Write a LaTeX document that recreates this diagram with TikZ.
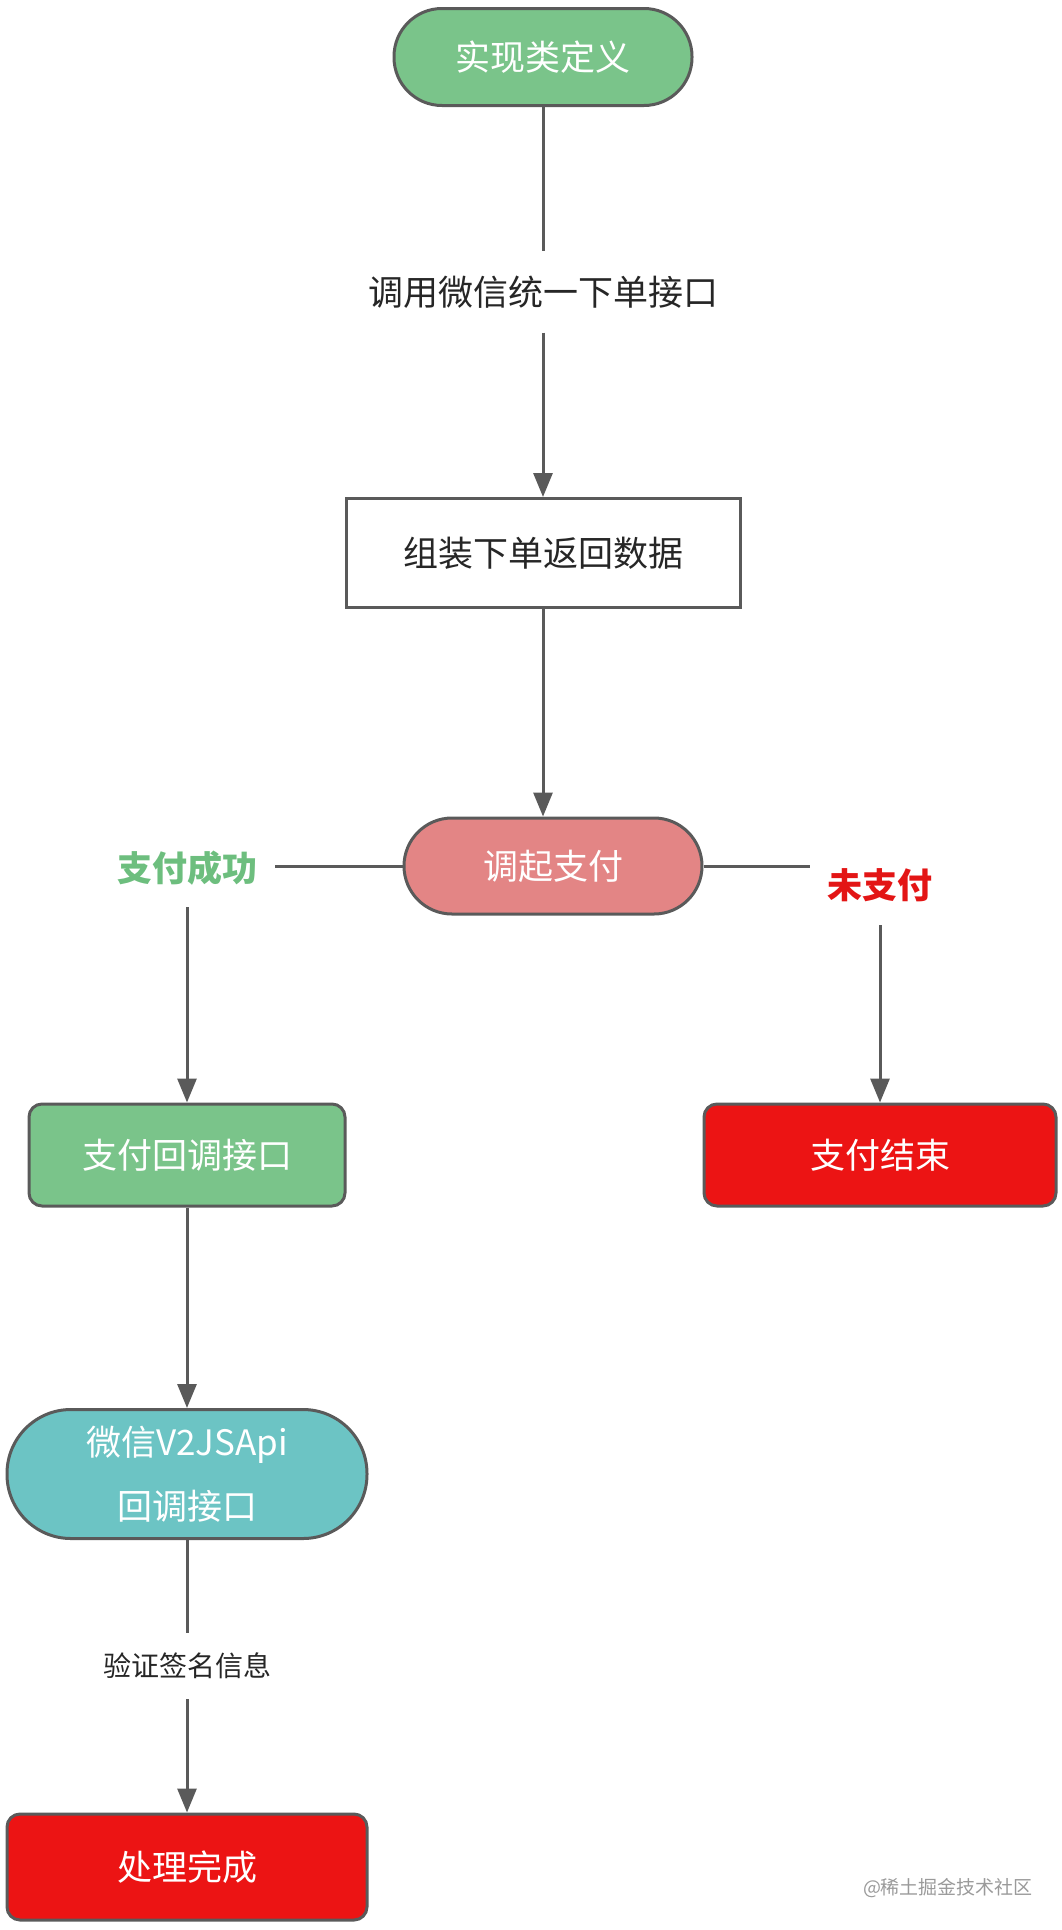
\documentclass[tikz,border=0pt]{standalone}
\usepackage{fontspec}
\setmainfont{Noto Sans CJK SC}
\usetikzlibrary{arrows.meta}
\definecolor{edgegray}{HTML}{5A5A5A}
\definecolor{startgreen}{HTML}{7AC48A}
\definecolor{invokepink}{HTML}{E38585}
\definecolor{apiteal}{HTML}{6CC4C4}
\definecolor{endred}{HTML}{EC1414}
\definecolor{okgreen}{HTML}{6DBE7E}
\definecolor{failred}{HTML}{E31515}
\definecolor{textdark}{HTML}{262626}
\definecolor{markgray}{HTML}{9A9A9A}
\begin{document}
\begin{tikzpicture}[x=1pt,y=-1pt,
        box/.style={draw=edgegray,line width=3pt,inner sep=0pt,text=white,
            font=\fontsize{35pt}{64pt}\selectfont},
        pill/.style={box,rounded corners=#1},
        tag/.style={inner sep=0pt,text=textdark,font=\fontsize{35pt}{40pt}\selectfont},
        link/.style={draw=edgegray,line width=3pt},
        flow/.style={link,-{Triangle[length=24pt,width=19pt]}}]
        \useasboundingbox (0,0) rectangle (1062,1930);
        %% Main nodes
        \node[pill=48pt,fill=startgreen,minimum width=298pt,minimum height=97pt] (define) at (543,57) {实现类定义};
        \node[box,fill=white,text=textdark,minimum width=394pt,minimum height=109pt] (collect) at (543,553) {组装下单返回数据};
        \node[pill=48pt,fill=invokepink,minimum width=298pt,minimum height=96pt] (invoke) at (553,866) {调起支付};
        \node[pill=13pt,fill=startgreen,minimum width=316pt,minimum height=102pt] (callback) at (187,1155) {支付回调接口};
        \node[pill=13pt,fill=endred,minimum width=352pt,minimum height=102pt] (payend) at (880,1155) {支付结束};
        \node[pill=64pt,fill=apiteal,minimum width=360pt,minimum height=129pt,align=center] (wxapi) at (187,1474) {微信V2JSApi\\回调接口};
        \node[pill=13pt,fill=endred,minimum width=360pt,minimum height=106pt] (done) at (187,1867) {处理完成};
        %% Labels
        \node[tag,minimum height=81pt] (callapi) at (543,292) {调用微信统一下单接口};
        \node[tag,font=\bfseries\fontsize{35pt}{40pt}\selectfont,text=okgreen,minimum width=176pt,minimum height=78pt] (paid) at (187,868) {支付成功};
        \node[tag,font=\bfseries\fontsize{35pt}{40pt}\selectfont,text=failred,minimum width=140pt,minimum height=80pt] (unpaid) at (880,885) {未支付};
        \node[tag,font=\fontsize{28pt}{32pt}\selectfont,minimum height=66pt] (sign) at (187,1666) {验证签名信息};
        \node[inner sep=0pt,text=markgray,font=\fontsize{19pt}{22pt}\selectfont] (mark) at (948,1888) {@稀土掘金技术社区};
        %% Connectors
        \draw[link] (define) -- (callapi);
        \draw[flow] (callapi) -- (collect);
        \draw[flow] (collect.south) -- (collect.south |- invoke.north);
        \draw[link] (invoke.west) -- (invoke.west -| paid.east);
        \draw[flow] (paid) -- (callback);
        \draw[link] (invoke.east) -- (invoke.east -| unpaid.west);
        \draw[flow] (unpaid) -- (payend);
        \draw[flow] (callback) -- (wxapi);
        \draw[link] (wxapi) -- (sign);
        \draw[flow] (sign) -- (done);
    \end{tikzpicture}
\end{document}
